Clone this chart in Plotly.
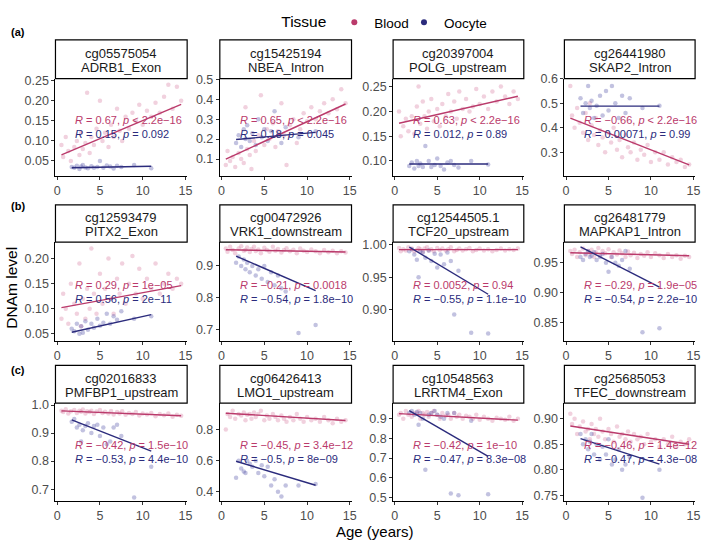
import plotly.graph_objects as go

W, H = 709, 543
FONT = "Liberation Sans, Arial, Helvetica, sans-serif"
BLOOD_COLOR = "#BA3A6B"
OOCYTE_COLOR = "#2B2B7C"
BLOOD_PT = "rgba(205,90,135,0.28)"
OOCYTE_PT = "rgba(70,70,160,0.33)"

# ---------------- data ----------------
PROBES = ["cg05575054", "cg15425194", "cg20397004", "cg26441980",
          "cg12593479", "cg00472926", "cg12544505.1", "cg26481779",
          "cg02016833", "cg06426413", "cg10548563", "cg25685053"]
GENES = ["ADRB1_Exon", "NBEA_Intron", "POLG_upstream", "SKAP2_Intron",
         "PITX2_Exon", "VRK1_downstream", "TCF20_upstream", "MAPKAP1_Intron",
         "PMFBP1_upstream", "LMO1_upstream", "LRRTM4_Exon", "TFEC_downstream"]
ROW_TAGS = ["(a)", "(b)", "(c)"]

BLOOD_AGE = [0.5, 0.7, 1.0, 1.3, 1.6, 2.0, 2.3, 2.6, 2.8, 3.0,
             3.3, 3.5, 3.8, 4.0, 4.3, 4.6, 5.0, 5.3, 5.6, 6.0,
             6.3, 6.6, 7.0, 7.3, 7.6, 8.0, 8.4, 8.8, 9.2, 9.6,
             10.0, 10.5, 11.0, 11.5, 12.0, 12.5, 13.0, 13.5, 14.0, 14.5]
OOCYTE_AGE = [1.7, 2.0, 2.3, 2.6, 2.8, 3.0, 3.3, 3.6, 4.0, 4.3,
              4.7, 5.0, 5.4, 5.8, 6.2, 6.6, 7.0, 7.5, 9.0, 11.0]

BLOOD_DNAM = [
    [0.09, 0.06, 0.11, 0.075, 0.05, 0.085, 0.10, 0.065, 0.12, 0.08,
     0.095, 0.22, 0.07, 0.11, 0.09, 0.13, 0.20, 0.10, 0.12, 0.085,
     0.14, 0.11, 0.18, 0.125, 0.10, 0.16, 0.13, 0.17, 0.15, 0.19,
     0.14, 0.175, 0.16, 0.195, 0.17, 0.21, 0.24, 0.18, 0.235, 0.20],
    [0.07, 0.14, 0.09, 0.11, 0.06, 0.13, 0.10, 0.08, 0.36, 0.15,
     0.12, 0.05, 0.19, 0.14, 0.22, 0.42, 0.17, 0.25, 0.20, 0.28,
     0.16, 0.24, 0.38, 0.22, 0.07, 0.27, 0.30, 0.18, 0.25, 0.33,
     0.29, 0.36, 0.30, 0.34, 0.38, 0.33, 0.40, 0.35, 0.45, 0.38],
    [0.20, 0.15, 0.17, 0.185, 0.16, 0.19, 0.155, 0.21, 0.25, 0.175,
     0.22, 0.19, 0.165, 0.20, 0.225, 0.18, 0.205, 0.17, 0.215, 0.19,
     0.235, 0.20, 0.22, 0.185, 0.24, 0.205, 0.225, 0.20, 0.21, 0.245,
     0.215, 0.23, 0.205, 0.24, 0.22, 0.25, 0.23, 0.215, 0.24, 0.225],
    [0.57, 0.45, 0.40, 0.48, 0.42, 0.38, 0.46, 0.35, 0.50, 0.41,
     0.37, 0.44, 0.33, 0.39, 0.36, 0.30, 0.38, 0.34, 0.40, 0.31,
     0.35, 0.28, 0.37, 0.32, 0.30, 0.34, 0.27, 0.31, 0.29, 0.33,
     0.26, 0.30, 0.27, 0.30, 0.25, 0.28, 0.26, 0.27, 0.24, 0.25],
    [0.08, 0.13, 0.10, 0.07, 0.15, 0.11, 0.09, 0.19, 0.065, 0.12,
     0.08, 0.14, 0.10, 0.22, 0.13, 0.09, 0.17, 0.11, 0.14, 0.20,
     0.12, 0.09, 0.16, 0.13, 0.19, 0.11, 0.15, 0.205, 0.13, 0.18,
     0.12, 0.16, 0.14, 0.19, 0.13, 0.15, 0.17, 0.14, 0.16, 0.15],
    [0.955, 0.945, 0.960, 0.950, 0.940, 0.955, 0.962, 0.948, 0.950, 0.958,
     0.944, 0.953, 0.960, 0.947, 0.952, 0.940, 0.957, 0.950, 0.945, 0.960,
     0.948, 0.953, 0.942, 0.950, 0.956, 0.946, 0.951, 0.940, 0.955, 0.948,
     0.944, 0.952, 0.946, 0.940, 0.950, 0.943, 0.948, 0.940, 0.946, 0.942],
    [0.995, 0.990, 0.993, 0.991, 0.996, 0.994, 0.990, 0.992, 0.995, 0.993,
     0.989, 0.994, 0.996, 0.991, 0.993, 0.990, 0.995, 0.992, 0.994, 0.991,
     0.993, 0.996, 0.990, 0.992, 0.994, 0.991, 0.993, 0.995, 0.990, 0.992,
     0.994, 0.991, 0.993, 0.990, 0.992, 0.994, 0.991, 0.993, 0.992, 0.994],
    [0.970, 0.965, 0.972, 0.960, 0.968, 0.974, 0.963, 0.970, 0.966, 0.972,
     0.960, 0.968, 0.975, 0.962, 0.970, 0.966, 0.973, 0.960, 0.968, 0.964,
     0.971, 0.966, 0.960, 0.969, 0.963, 0.967, 0.958, 0.965, 0.962, 0.968,
     0.960, 0.966, 0.963, 0.958, 0.965, 0.960, 0.963, 0.957, 0.962, 0.960],
    [0.980, 0.975, 0.985, 0.970, 0.978, 0.982, 0.972, 0.980, 0.976, 0.984,
     0.970, 0.978, 0.975, 0.980, 0.968, 0.977, 0.982, 0.972, 0.976, 0.970,
     0.979, 0.966, 0.975, 0.970, 0.978, 0.965, 0.972, 0.968, 0.975, 0.963,
     0.970, 0.966, 0.972, 0.960, 0.968, 0.964, 0.970, 0.958, 0.965, 0.962],
    [0.80, 0.90, 0.88, 0.92, 0.87, 0.90, 0.89, 0.91, 0.86, 0.895,
     0.90, 0.87, 0.91, 0.88, 0.90, 0.92, 0.86, 0.89, 0.87, 0.90,
     0.88, 0.86, 0.89, 0.87, 0.85, 0.88, 0.86, 0.90, 0.87, 0.85,
     0.88, 0.86, 0.87, 0.85, 0.88, 0.86, 0.84, 0.87, 0.85, 0.86],
    [0.92, 0.93, 0.90, 0.94, 0.92, 0.91, 0.93, 0.925, 0.94, 0.90,
     0.93, 0.92, 0.935, 0.91, 0.93, 0.94, 0.92, 0.90, 0.93, 0.915,
     0.92, 0.90, 0.93, 0.91, 0.92, 0.90, 0.915, 0.91, 0.90, 0.92,
     0.895, 0.91, 0.90, 0.89, 0.905, 0.90, 0.895, 0.91, 0.89, 0.90],
    [0.91, 0.89, 0.90, 0.87, 0.885, 0.895, 0.875, 0.88, 0.86, 0.89,
     0.87, 0.88, 0.865, 0.90, 0.875, 0.86, 0.88, 0.87, 0.855, 0.885,
     0.865, 0.87, 0.86, 0.875, 0.855, 0.87, 0.86, 0.865, 0.85, 0.87,
     0.855, 0.86, 0.845, 0.86, 0.85, 0.865, 0.845, 0.855, 0.85, 0.86],
]

OOCYTE_DNAM = [
    [0.035, 0.033, 0.038, 0.030, 0.036, 0.040, 0.034, 0.032, 0.037, 0.033,
     0.035, 0.050, 0.033, 0.039, 0.036, 0.031, 0.038, 0.035, 0.040, 0.032],
    [0.18, 0.22, 0.16, 0.25, 0.20, 0.27, 0.19, 0.23, 0.17, 0.30,
     0.21, 0.25, 0.19, 0.24, 0.34, 0.22, 0.18, 0.26, 0.21, 0.24],
    [0.090, 0.097, 0.085, 0.100, 0.090, 0.095, 0.088, 0.130, 0.100, 0.088,
     0.092, 0.105, 0.090, 0.083, 0.097, 0.100, 0.092, 0.087, 0.100, 0.093],
    [0.52, 0.46, 0.50, 0.57, 0.48, 0.51, 0.44, 0.49, 0.53, 0.45,
     0.55, 0.47, 0.57, 0.50, 0.44, 0.53, 0.46, 0.52, 0.48, 0.49],
    [0.060, 0.055, 0.070, 0.050, 0.065, 0.052, 0.075, 0.058, 0.070, 0.062,
     0.080, 0.066, 0.072, 0.090, 0.070, 0.085, 0.078, 0.095, 0.080, 0.085],
    [0.91, 0.93, 0.90, 0.92, 0.89, 0.91, 0.88, 0.90, 0.87, 0.89,
     0.86, 0.90, 0.85, 0.88, 0.84, 0.87, 0.83, 0.82, 0.69, 0.715],
    [0.990, 0.993, 0.985, 0.977, 0.950, 0.990, 0.988, 0.980, 0.991, 0.975,
     0.986, 0.965, 0.985, 0.970, 0.988, 0.975, 0.893, 0.960, 0.865, 0.864],
    [0.960, 0.955, 0.965, 0.970, 0.960, 0.962, 0.968, 0.955, 0.960, 0.965,
     0.950, 0.935, 0.960, 0.950, 0.945, 0.955, 0.970, 0.940, 0.833, 0.840],
    [0.94, 0.95, 0.92, 0.93, 0.87, 0.91, 0.925, 0.935, 0.90, 0.925,
     0.93, 0.89, 0.92, 0.86, 0.87, 0.92, 0.93, 0.89, 0.67, 0.78],
    [0.49, 0.60, 0.55, 0.53, 0.52, 0.60, 0.58, 0.56, 0.60, 0.52,
     0.57, 0.50, 0.56, 0.44, 0.48, 0.40, 0.37, 0.44, 0.44, 0.45],
    [0.93, 0.94, 0.92, 0.935, 0.87, 0.93, 0.90, 0.64, 0.92, 0.93,
     0.94, 0.92, 0.91, 0.90, 0.93, 0.52, 0.93, 0.51, 0.89, 0.515],
    [0.87, 0.85, 0.86, 0.84, 0.855, 0.87, 0.83, 0.85, 0.82, 0.845,
     0.83, 0.86, 0.81, 0.82, 0.84, 0.80, 0.81, 0.825, 0.745, 0.80],
]

# regression line values at youngest / oldest sample of each tissue
BLOOD_FIT_START = [0.065, 0.100, 0.176, 0.439, 0.102, 0.951, 0.9925, 0.967, 0.979, 0.905, 0.926, 0.886]
BLOOD_FIT_END = [0.191, 0.376, 0.2305, 0.249, 0.146, 0.944, 0.9925, 0.962, 0.962, 0.858, 0.893, 0.850]
OOCYTE_FIT_START = [0.033, 0.198, 0.094, 0.488, 0.053, 0.931, 0.9965, 0.977, 0.947, 0.596, 0.941, 0.861]
OOCYTE_FIT_END = [0.037, 0.234, 0.094, 0.488, 0.088, 0.823, 0.924, 0.909, 0.836, 0.442, 0.708, 0.811]

BLOOD_R = ["0.67", "0.65", "0.63", "\u22120.66", "0.29", "\u22120.21", "0.0052", "\u22120.29",
           "\u22120.42", "\u22120.45", "\u22120.42", "\u22120.46"]
BLOOD_P = ["< 2.2e\u221216", "< 2.2e\u221216", "< 2.2e\u221216", "< 2.2e\u221216", "= 1e\u221205",
           "= 0.0018", "= 0.94", "= 1.9e\u221205", "= 1.5e\u221210", "= 3.4e\u221212",
           "= 1e\u221210", "= 1.4e\u221212"]
OOCYTE_R = ["0.15", "0.18", "0.012", "0.00071", "0.56", "\u22120.54", "\u22120.55", "\u22120.54",
            "\u22120.53", "\u22120.5", "\u22120.47", "\u22120.47"]
OOCYTE_P = ["= 0.092", "= 0.045", "= 0.89", "= 0.99", "= 2e\u221211", "= 1.8e\u221210",
            "= 1.1e\u221210", "= 2.2e\u221210", "= 4.4e\u221210", "= 8e\u221209",
            "= 8.3e\u221208", "= 4.3e\u221208"]

X_RANGE = [-0.2, 15.2]
X_TICKS = [0, 5, 10, 15]
Y_RANGES = [[0.013, 0.255], [0.016, 0.503], [0.07, 0.266], [0.204, 0.6],
            [0.035, 0.233], [0.664, 0.975], [0.852, 1.004], [0.818, 0.985],
            [0.657, 1.007], [0.339, 0.97], [0.48, 0.98], [0.738, 0.931]]
Y_DTICK = [0.05, 0.1, 0.05, 0.1, 0.05, 0.1, 0.05, 0.05, 0.1, 0.2, 0.1, 0.05]
Y_FORMAT = [".2f", ".1f", ".2f", ".1f", ".2f", ".1f", ".2f", ".2f", ".1f", ".1f", ".1f", ".2f"]

# ---------------- layout geometry (pixels) ----------------
COL_PX = [(54, 187), (220, 353), (395, 527), (568, 700)]
ROW_PX = [(73, 172), (239.5, 340.5), (403.5, 503.5)]
STRIP_PX = [(33.5, 73), (201.5, 239.5), (365, 403.5)]


def px_x(x):
    return x / W


def px_y(y):
    return 1 - y / H


fig = go.Figure()
layout_axes = {}
annotations = []
shapes = []

for i in range(12):
    r, c = divmod(i, 4)
    n = i + 1
    xa = "x" if n == 1 else f"x{n}"
    ya = "y" if n == 1 else f"y{n}"
    x0, x1 = COL_PX[c]
    top, bot = ROW_PX[r]

    common = dict(showline=True, linecolor="black", linewidth=1, ticks="outside",
                  ticklen=3, tickcolor="#333333", tickwidth=1,
                  tickfont=dict(size=12.5, color="#4D4D4D", family=FONT),
                  showgrid=False, zeroline=False, fixedrange=True, mirror=False)
    layout_axes["xaxis" if n == 1 else f"xaxis{n}"] = dict(
        domain=[px_x(x0), px_x(x1)], anchor=ya, range=X_RANGE,
        tickvals=X_TICKS, ticktext=[str(t) for t in X_TICKS], **common)
    layout_axes["yaxis" if n == 1 else f"yaxis{n}"] = dict(
        domain=[px_y(bot), px_y(top)], anchor=xa, range=Y_RANGES[i],
        tick0=0, dtick=Y_DTICK[i], tickformat=Y_FORMAT[i], **common)

    fig.add_trace(go.Scatter(x=BLOOD_AGE, y=BLOOD_DNAM[i], mode="markers",
                             marker=dict(color=BLOOD_PT, size=4.5, line=dict(width=0)),
                             xaxis=xa, yaxis=ya, showlegend=False, hoverinfo="skip"))
    fig.add_trace(go.Scatter(x=OOCYTE_AGE, y=OOCYTE_DNAM[i], mode="markers",
                             marker=dict(color=OOCYTE_PT, size=4.5, line=dict(width=0)),
                             xaxis=xa, yaxis=ya, showlegend=False, hoverinfo="skip"))
    fig.add_trace(go.Scatter(x=[min(BLOOD_AGE), max(BLOOD_AGE)],
                             y=[BLOOD_FIT_START[i], BLOOD_FIT_END[i]], mode="lines",
                             line=dict(color=BLOOD_COLOR, width=1.4),
                             xaxis=xa, yaxis=ya, showlegend=False, hoverinfo="skip"))
    fig.add_trace(go.Scatter(x=[min(OOCYTE_AGE), max(OOCYTE_AGE)],
                             y=[OOCYTE_FIT_START[i], OOCYTE_FIT_END[i]], mode="lines",
                             line=dict(color=OOCYTE_COLOR, width=1.4),
                             xaxis=xa, yaxis=ya, showlegend=False, hoverinfo="skip"))

    # correlation labels
    for txt_r, txt_p, yy, col in [(BLOOD_R[i], BLOOD_P[i], 0.57, BLOOD_COLOR),
                                  (OOCYTE_R[i], OOCYTE_P[i], 0.43, OOCYTE_COLOR)]:
        annotations.append(dict(
            text=f"<i>R</i> = {txt_r}, <i>p</i> {txt_p.replace('<', '&lt;')}",
            xref=f"{xa} domain", yref=f"{ya} domain", x=0.135, y=yy,
            xanchor="left", yanchor="middle", showarrow=False,
            font=dict(size=11, color=col, family=FONT)))

    # facet strip
    s_top, s_bot = STRIP_PX[r]
    shapes.append(dict(type="rect", xref="paper", yref="paper",
                       x0=px_x(x0), x1=px_x(x1), y0=px_y(s_bot), y1=px_y(s_top),
                       line=dict(color="black", width=1.2), fillcolor="white", layer="above"))
    mid = (s_top + s_bot) / 2 + 1
    for line_txt, dy in [(PROBES[i], -7.2), (GENES[i], 7.2)]:
        annotations.append(dict(text=line_txt, xref="paper", yref="paper",
                                x=px_x((x0 + x1) / 2), y=px_y(mid + dy),
                                xanchor="center", yanchor="middle", showarrow=False,
                                font=dict(size=13, color="#1A1A1A", family=FONT)))

# row tags
for r, tag in enumerate(ROW_TAGS):
    annotations.append(dict(text=f"<b>{tag}</b>", xref="paper", yref="paper",
                            x=px_x(7), y=px_y([25, 203, 370][r]), xanchor="left",
                            yanchor="middle", showarrow=False,
                            font=dict(size=11, color="black", family=FONT)))

# axis titles
annotations.append(dict(text="DNAm level", xref="paper", yref="paper",
                        x=px_x(10), y=px_y(286), textangle=-90, showarrow=False,
                        xanchor="center", yanchor="middle",
                        font=dict(size=15.5, color="black", family=FONT)))
annotations.append(dict(text="Age (years)", xref="paper", yref="paper",
                        x=px_x(377), y=px_y(534), showarrow=False,
                        xanchor="center", yanchor="middle",
                        font=dict(size=15, color="black", family=FONT)))

# legend entries
fig.add_trace(go.Scatter(x=[None], y=[None], mode="markers", name="Blood",
                         marker=dict(color=BLOOD_COLOR, size=6), legend="legend"))
fig.add_trace(go.Scatter(x=[None], y=[None], mode="markers", name="Oocyte",
                         marker=dict(color=OOCYTE_COLOR, size=6), legend="legend2"))

fig.update_layout(
    width=W, height=H,
    margin=dict(l=0, r=0, t=0, b=0),
    paper_bgcolor="white", plot_bgcolor="white",
    font=dict(family=FONT, color="black"),
    showlegend=True,
    legend=dict(orientation="h", x=px_x(280), xanchor="left", y=1.0, yanchor="top",
                title=dict(text="Tissue", side="left", font=dict(size=15.5, color="black")),
                font=dict(size=13.5, color="black"), itemwidth=30,
                bgcolor="rgba(0,0,0,0)"),
    legend2=dict(orientation="h", x=px_x(406), xanchor="left", y=1.0, yanchor="top",
                 font=dict(size=13.5, color="black"), itemwidth=30,
                 bgcolor="rgba(0,0,0,0)"),
    annotations=annotations,
    shapes=shapes,
    **layout_axes,
)

fig.write_html("out.html", config={"displayModeBar": False},
               post_script="document.body.style.margin='0';document.body.style.overflow='hidden';")
